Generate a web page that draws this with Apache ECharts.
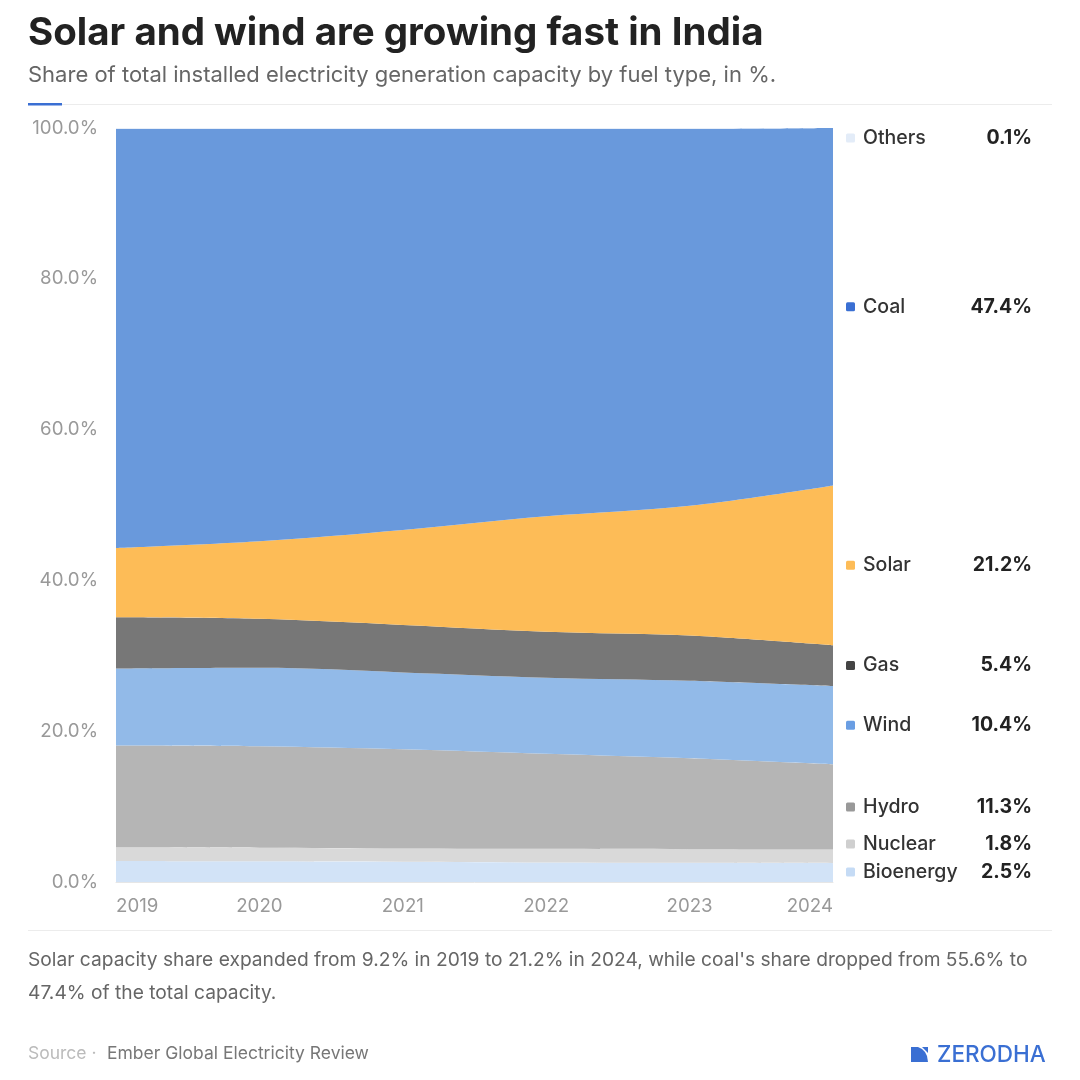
<!DOCTYPE html>
<html>
<head>
<meta charset="utf-8">
<script src="https://cdn.jsdelivr.net/npm/echarts@6/dist/echarts.min.js"></script>
<style>
  html, body { margin: 0; padding: 0; background: #fff; }
  #chart { width: 1080px; height: 1080px; }
</style>
</head>
<body>
<div id="chart"></div>
<script>
// 数据 (share of installed capacity, %)
var years = ['2019', '2020', '2021', '2022', '2023', '2024'];
var bioenergy = [2.8, 2.75, 2.7, 2.6, 2.55, 2.5];
var nuclear = [1.8, 1.8, 1.75, 1.8, 1.8, 1.8];
var hydro = [13.5, 13.45, 13.15, 12.6, 12.05, 11.3];
var wind = [10.2, 10.4, 10.2, 10.1, 10.3, 10.4];
var gas = [6.8, 6.5, 6.3, 6.1, 6.0, 5.4];
var solar = [9.2, 10.3, 12.6, 15.3, 17.2, 21.2];
var coal = [55.6, 54.7, 53.2, 51.4, 50.0, 47.4];
var others = [0.1, 0.1, 0.1, 0.1, 0.1, 0.1];
var yTicks = [0, 20, 40, 60, 80, 100];

var fuelNames = ['Bioenergy', 'Nuclear', 'Hydro', 'Wind', 'Gas', 'Solar', 'Coal', 'Others'];
var fuelData = [bioenergy, nuclear, hydro, wind, gas, solar, coal, others];
var areaColors = ['#d2e3f7', '#d9d9d9', '#b5b5b5', '#92bae8', '#777777', '#fdbc57', '#6999dc', '#eef3fb'];
var markColors = ['#c5dbf5', '#cfcfcf', '#999999', '#6a9ee3', '#444444', '#fdbc57', '#3a6fd3', '#e3ecf8'];

(function () {
    var myChart = echarts.init(document.getElementById('chart'));
    var font = 'Inter, "Noto Sans", sans-serif';

    var series = fuelNames.map(function (name, i) {
        return {
            name: name,
            type: 'line',
            stack: 'total',
            smooth: 0.35,
            symbol: 'none',
            lineStyle: { width: 0 },
            areaStyle: { color: areaColors[i], opacity: 1 },
            data: fuelData[i]
        };
    });

    var option = {
        animation: false,
        grid: { left: 116, right: 247, top: 128, bottom: 198 },
        xAxis: {
            type: 'category',
            boundaryGap: false,
            data: years,
            axisTick: { show: false },
            axisLine: { lineStyle: { color: '#e6e6e6' } },
            axisLabel: {
                color: '#999', fontSize: 18.7, fontFamily: font, margin: 15,
                alignMinLabel: 'left', alignMaxLabel: 'right'
            }
        },
        yAxis: {
            type: 'value',
            min: yTicks[0],
            max: yTicks[yTicks.length - 1],
            interval: 20,
            splitLine: { show: false },
            axisLabel: {
                color: '#999', fontSize: 18.7, fontFamily: font, margin: 18,
                formatter: function (v) { return v.toFixed(1) + '%'; }
            }
        },
        series: series
    };
    myChart.setOption(option);

    // 右侧标签 (end labels at midpoint of each band in 2024)
    var last = years.length - 1;
    var labels = [];
    var cum = 0;
    for (var i = 0; i < fuelData.length; i++) {
        var v = fuelData[i][last];
        var mid = cum + v / 2;
        if (i === fuelData.length - 1) mid = cum + v;
        cum += v;
        var p = myChart.convertToPixel({ gridIndex: 0 }, [years[last], mid]);
        labels.push({ idx: i, y: p[1], v: v });
    }
    // bottom-up then top-down spacing
    labels.sort(function (a, b) { return b.y - a.y; });
    var gap = 28;
    for (var k = 0; k < labels.length; k++) {
        if (k === 0) labels[k].y = Math.min(labels[k].y, 872);
        else labels[k].y = Math.min(labels[k].y, labels[k - 1].y - gap);
    }
    labels.reverse();
    for (var k = 0; k < labels.length; k++) {
        if (k === 0) labels[k].y = Math.max(labels[k].y, 138);
        else labels[k].y = Math.max(labels[k].y, labels[k - 1].y + gap);
    }

    function txt(x, y, text, fill, f, align) {
        return {
            type: 'text', x: x, y: y,
            style: {
                text: text, fill: fill, font: f,
                textAlign: align || 'left', textVerticalAlign: 'middle',
                align: align || 'left', verticalAlign: 'middle'
            }
        };
    }

    var graphics = [];
    labels.forEach(function (l) {
        graphics.push({
            type: 'rect',
            shape: { x: 846, y: l.y - 4.5, width: 9, height: 9, r: 1.5 },
            style: { fill: markColors[l.idx] }
        });
        graphics.push(txt(863, l.y, fuelNames[l.idx], '#333', '500 19.5px ' + font));
        graphics.push(txt(1032, l.y, l.v.toFixed(1) + '%', '#222', 'bold 19.5px ' + font, 'right'));
    });

    // 标题, 注释, 来源
    graphics.push(txt(28, 33, 'Solar and wind are growing fast in India', '#222', 'bold 38.5px ' + font));
    graphics.push(txt(28, 75, 'Share of total installed electricity generation capacity by fuel type, in %.', '#666', '22px ' + font));
    graphics.push({ type: 'rect', shape: { x: 28, y: 104, width: 1024, height: 1 }, style: { fill: '#ececec' } });
    graphics.push({ type: 'rect', shape: { x: 28, y: 103, width: 34, height: 2.5 }, style: { fill: '#3a6fd3' } });
    graphics.push({ type: 'rect', shape: { x: 28, y: 930, width: 1024, height: 1 }, style: { fill: '#ececec' } });
    graphics.push(txt(28, 960, "Solar capacity share expanded from 9.2% in 2019 to 21.2% in 2024, while coal's share dropped from 55.6% to", '#666', '19.2px ' + font));
    graphics.push(txt(28, 993, '47.4% of the total capacity.', '#666', '19.2px ' + font));
    graphics.push(txt(28, 1054, 'Source ·', '#bbb', '17.5px ' + font));
    graphics.push(txt(107, 1054, 'Ember Global Electricity Review', '#777', '17.5px ' + font));
    // logo
    graphics.push({
        type: 'polygon',
        shape: { points: [[911, 1047], [918, 1047], [922, 1049], [925, 1052], [927, 1056], [928, 1062], [911, 1062]] },
        style: { fill: '#3a6fd3' }
    });
    graphics.push({
        type: 'polygon',
        shape: { points: [[922, 1047], [928, 1047], [928, 1053]] },
        style: { fill: '#3a6fd3' }
    });
    graphics.push(txt(937, 1055, 'ZERODHA', '#3a6fd3', '500 22.5px ' + font));

    myChart.setOption({ graphic: graphics });

    window.addEventListener('resize', function () {
        myChart.resize();
    });
})();
</script>
</body>
</html>
